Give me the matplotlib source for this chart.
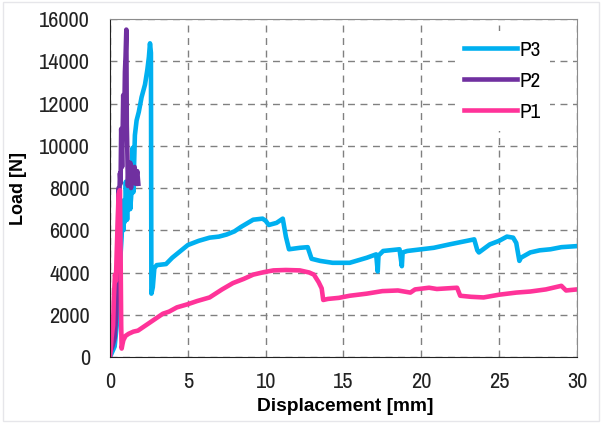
import matplotlib
matplotlib.use('Agg')
import matplotlib.pyplot as plt
from matplotlib import font_manager as fm

# narrow face for ticks/legend (reference looks like Arial Narrow)
installed = set(f.name for f in fm.fontManager.ttflist)
narrow = next((n for n in ['Pragati Narrow', 'Archivo Narrow', 'Liberation Sans']
               if n in installed))
plt.rcParams['font.family'] = [narrow, 'Liberation Sans', 'DejaVu Sans']

# Displacement [mm] / Load [N]
p3_x = [0, 0.3, 0.5, 0.65, 0.75, 0.8, 0.86, 0.92, 0.96, 1.02, 1.1, 1.2, 1.3, 1.4, 1.45, 1.5,
        1.6, 1.71, 1.85, 2.03, 2.25, 2.4, 2.5, 2.57, 2.63, 2.66, 2.75, 2.85, 3.0, 3.6, 4.0,
        4.5, 5.0, 5.7, 6.4, 7.0, 7.5, 8.0, 8.4, 9.2, 9.8, 10.0, 10.2, 10.7, 11.1, 11.3, 11.5,
        12.2, 12.7, 12.95, 13.5, 14.3, 15.4, 16.5, 17.1, 17.2, 17.25, 17.55, 18.6, 18.75,
        18.8, 19.1, 20.0, 20.8, 21.8, 22.6, 23.4, 23.6, 23.7, 24.4, 25.0, 25.5, 25.9, 26.1,
        26.3, 26.4, 27.0, 27.6, 28.3, 29.0, 30.0]
p3_y = [0, 500, 2000, 4500, 5700, 7400, 6000, 7400, 6400, 8300, 6500, 9100, 7000, 8000, 9900,
        7800, 10500, 11200, 11600, 12300, 12900, 13600, 14200, 14850, 14400, 3000, 3300, 4200,
        4350, 4400, 4700, 5000, 5300, 5500, 5650, 5700, 5800, 5950, 6150, 6500, 6550, 6450,
        6250, 6350, 6550, 5700, 5100, 5170, 5200, 4650, 4550, 4460, 4460, 4700, 4860, 4050,
        4800, 5020, 5100, 4300, 4950, 5020, 5100, 5170, 5330, 5450, 5570, 5050, 4950, 5330,
        5500, 5700, 5650, 5400, 4550, 4700, 4950, 5050, 5100, 5200, 5250]

p2_x = [0, 0.05, 0.15, 0.3, 0.4, 0.45, 0.5, 0.55, 0.6, 0.64, 0.68, 0.72, 0.78, 0.85, 0.9,
        0.96, 1.0, 1.05, 1.08, 1.12, 1.15, 1.2, 1.25, 1.3, 1.35, 1.42, 1.5, 1.58, 1.65, 1.75, 1.82]
p2_y = [1300, 300, 500, 900, 2000, 3000, 5000, 8000, 7500, 8700, 8200, 10800, 9000, 12400,
        10500, 13500, 14200, 15500, 11000, 9500, 8100, 9100, 8300, 9200, 8000, 8800, 8300,
        9000, 8200, 8800, 8200]

p1_x = [0, 0.05, 0.1, 0.2, 0.25, 0.32, 0.38, 0.43, 0.5, 0.55, 0.64, 0.68, 0.72, 0.75, 0.8,
        0.86, 1.0, 1.2, 1.5, 1.8, 2.1, 2.4, 2.7, 3.0, 3.4, 3.8, 4.3, 5.0, 5.6, 6.4, 7.2, 7.9,
        8.6, 9.2, 9.9, 10.5, 11.3, 12.2, 12.8, 13.1, 13.4, 13.6, 13.7, 14.0, 14.7, 15.4, 16.5,
        17.5, 18.5, 19.3, 19.6, 20.5, 21.0, 22.3, 22.5, 23.2, 24.0, 25.0, 26.1, 27.0, 28.0,
        29.0, 29.3, 30.0]
p1_y = [0, 400, 900, 1500, 2800, 3900, 3600, 4900, 6500, 7700, 7900, 5000, 1500, 400, 600,
        800, 1000, 1100, 1200, 1250, 1400, 1550, 1700, 1850, 2050, 2150, 2350, 2500, 2650,
        2820, 3200, 3500, 3700, 3900, 4020, 4100, 4120, 4100, 4000, 3900, 3550, 3250, 2700,
        2750, 2800, 2900, 3000, 3120, 3150, 3050, 3200, 3280, 3220, 3280, 2900, 2850, 2820,
        2950, 3050, 3100, 3200, 3370, 3150, 3200]

fig = plt.figure(figsize=(6.02, 4.23), dpi=100)
ax = fig.add_axes([0.1827, 0.156, 0.7757, 0.799])

ax.plot(p3_x, p3_y, color='#00B0F0', lw=3.3, label='P3')
ax.plot(p2_x, p2_y, color='#7030A0', lw=3.3, label='P2')
ax.plot(p1_x, p1_y, color='#FF3399', lw=3.3, label='P1')

ax.set_xlim(0, 30)
ax.set_ylim(0, 16000)
ax.set_xticks(range(0, 31, 5))
ax.set_yticks(range(0, 16001, 2000))
ax.tick_params(length=0, labelsize=17.5, colors='#222222')
ax.tick_params(axis='x', pad=11)
ax.tick_params(axis='y', pad=14.4)
ax.grid(True, ls=(0, (5, 4)), color='#808080', lw=1)
for s in ['top', 'right']:
    ax.spines[s].set_color('#8c8c8c')
for s in ['left', 'bottom']:
    ax.spines[s].set_color('#222222')

ax.set_xlabel('Displacement [mm]', fontsize=13.8, fontweight='bold', family=['Liberation Sans', 'DejaVu Sans'])
ax.xaxis.set_label_coords(0.503, -0.121)
ax.set_ylabel('Load [N]', fontsize=13, fontweight='bold', family=['Liberation Sans', 'DejaVu Sans'])
ax.yaxis.set_label_coords(-0.178, 0.5)

leg = ax.legend(loc='upper left', bbox_to_anchor=(0.739, 0.965), frameon=True, facecolor='white',
                edgecolor='none', framealpha=1, fancybox=False, borderpad=0.4,
                borderaxespad=0, fontsize=16.5, handlelength=2.3, handletextpad=0.1,
                labelspacing=0.48)

fig.patches.append(plt.Rectangle((0.005, 0.005), 0.99, 0.99, transform=fig.transFigure,
                                 fill=False, ec='#e6e6ea', lw=1))

plt.savefig('out.png', dpi=100)
